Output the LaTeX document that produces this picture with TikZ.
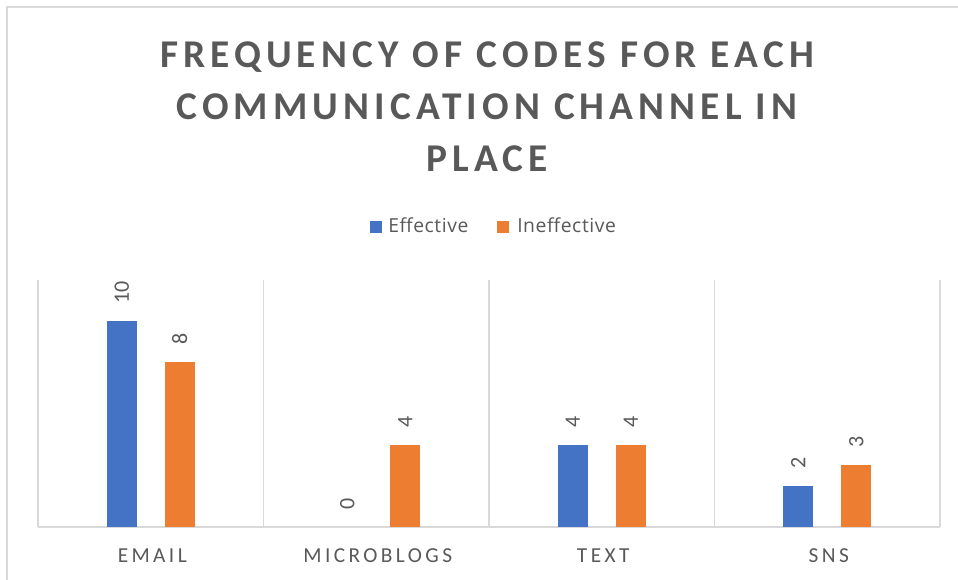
\documentclass[tikz,border=0pt]{standalone}
\usepackage{fontspec}
\setmainfont{Carlito}
\newfontfamily\titlefont[LetterSpace=13]{Carlito}
\newfontfamily\catfont[LetterSpace=16]{Carlito}
\newfontfamily\legfont[LetterSpace=3]{Open Sans}
\definecolor{gridc}{HTML}{D9D9D9}
\definecolor{txtc}{HTML}{595959}
\definecolor{effc}{HTML}{4472C4}
\definecolor{ineffc}{HTML}{ED7D31}
\tikzset{
  titleline/.style={anchor=base, inner sep=0pt, text=txtc,
    font=\titlefont\bfseries\fontsize{29.5}{29.5}\selectfont},
  vlabel/.style={rotate=90, anchor=west, inner sep=0pt, text=txtc,
    font=\fontsize{16.5}{16.5}\selectfont},
  catlabel/.style={anchor=base, inner sep=0pt, text=txtc,
    font=\catfont\fontsize{16}{16}\selectfont},
  legtext/.style={anchor=base west, inner sep=0pt, text=txtc,
    font=\legfont\fontsize{14.5}{14.5}\selectfont},
  gridline/.style={draw=gridc, line width=1.1pt}
}
\begin{document}
\begin{tikzpicture}[x=0.75pt,y=-0.75pt]
\useasboundingbox (0,0) rectangle (958,580);
\fill[white] (0,0) rectangle (958,580);
% chart frame (top and left edges)
\draw[gridc, line width=1.9pt] (7,580) -- (7,7) -- (958,7);

% title
\node[titleline] (t1) at (487,68) {FREQUENCY OF CODES FOR EACH};
\node[titleline] (t2) at (487,120) {COMMUNICATION CHANNEL IN};
\node[titleline] (t3) at (487,172) {PLACE};

% legend
\fill[effc] (370,221) rectangle (382,233);
\node[legtext] (leff) at (388,233) {Effective};
\fill[ineffc] (497,221) rectangle (509,233);
\node[legtext] (lineff) at (517,233) {Ineffective};

% category separators and baseline
\foreach \k in {0,...,4}
  \draw[gridline] ({38+225.5*\k},280) -- ({38+225.5*\k},527);
\draw[gridline] (38,527) -- (940,527);

% bars, value labels, category names
\foreach \i/\cat/\e/\n in {0/EMAIL/10/8, 1/MICROBLOGS/0/4, 2/TEXT/4/4, 3/SNS/2/3} {
  \pgfmathsetmacro\c{38+225.5*(\i+0.5)}
  \ifnum\e>0
    \fill[effc] ({\c-44},527) rectangle ({\c-14},{527-20.6*\e});
  \fi
  \fill[ineffc] ({\c+14},527) rectangle ({\c+44},{527-20.6*\n});
  \node[vlabel] (ve\i) at ({\c-29},{527-20.6*\e-17}) {\e};
  \node[vlabel] (vi\i) at ({\c+29},{527-20.6*\n-17}) {\n};
  \node[catlabel] (cat\i) at ({\c+1.5},563) {\cat};
}
\end{tikzpicture}
\end{document}
